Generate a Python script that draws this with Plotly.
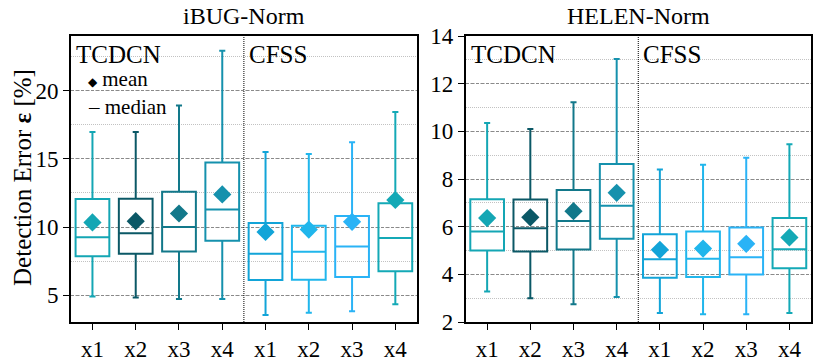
import plotly.graph_objects as go

# ---------------- data ----------------
cats = ["x1", "x2", "x3", "x4", "x1", "x2", "x3", "x4"]
groups = ["TCDCN", "CFSS"]
panel_titles = ["iBUG-Norm", "HELEN-Norm"]
colors = ["#14a6b4", "#0b5866", "#12788a", "#1591ad",
          "#12a4d8", "#20b6ec", "#2ab3f6", "#14a9b6"]

# iBUG-Norm
ibug_low = [4.90, 4.83, 4.73, 4.73, 3.55, 3.72, 3.82, 4.35]
ibug_q1 = [7.85, 8.04, 8.21, 8.99, 6.11, 6.13, 6.33, 6.76]
ibug_med = [9.25, 9.54, 10.00, 11.28, 8.04, 8.19, 8.57, 9.20]
ibug_q3 = [12.05, 12.08, 12.59, 14.73, 10.29, 10.10, 10.80, 11.74]
ibug_high = [16.96, 16.96, 18.90, 22.92, 15.49, 15.36, 16.21, 18.43]
ibug_mean = [10.34, 10.43, 10.99, 12.39, 9.64, 9.81, 10.38, 11.98]

# HELEN-Norm
helen_low = [3.28, 3.00, 2.75, 3.05, 2.38, 2.32, 2.32, 2.38]
helen_q1 = [5.00, 4.96, 5.04, 5.49, 3.86, 3.89, 3.99, 4.25]
helen_med = [5.80, 5.93, 6.24, 6.88, 4.63, 4.65, 4.72, 5.05]
helen_q3 = [7.15, 7.14, 7.54, 8.63, 5.68, 5.80, 5.96, 6.36]
helen_high = [10.35, 10.10, 11.22, 13.04, 8.40, 8.60, 8.89, 9.46]
helen_mean = [6.36, 6.39, 6.65, 7.42, 5.03, 5.08, 5.28, 5.55]

FONT = "'Liberation Serif', 'Times New Roman', Times, serif"
W, H = 813, 362

fig = go.Figure()

panels = [
    (ibug_low, ibug_q1, ibug_med, ibug_q3, ibug_high, ibug_mean, "x", "y"),
    (helen_low, helen_q1, helen_med, helen_q3, helen_high, helen_mean, "x2", "y2"),
]
positions = list(range(len(cats)))

for low, q1, med, q3, high, mean, xa, ya in panels:
    for i in positions:
        fig.add_trace(go.Box(
            x=[i], lowerfence=[low[i]], q1=[q1[i]], median=[med[i]],
            q3=[q3[i]], upperfence=[high[i]],
            width=0.78, whiskerwidth=0.18,
            line=dict(color=colors[i], width=2),
            fillcolor="rgba(255,255,255,0)",
            boxpoints=False, showlegend=False, hoverinfo="skip",
            xaxis=xa, yaxis=ya,
        ))
    fig.add_trace(go.Scatter(
        x=positions, y=mean, mode="markers",
        marker=dict(symbol="diamond", size=14, color=colors, line=dict(width=0)),
        showlegend=False, hoverinfo="skip", xaxis=xa, yaxis=ya,
    ))

common_x = dict(range=[-0.5, 7.5], tickvals=positions, ticktext=cats,
                ticks="outside", ticklen=6, tickcolor="black", showgrid=False,
                showline=True, mirror=True, linecolor="black", linewidth=1.5,
                zeroline=False, tickfont=dict(family=FONT, size=23, color="black"))
common_y = dict(ticks="outside", ticklen=6, tickcolor="black",
                showline=True, mirror=True, linecolor="black", linewidth=1.5,
                zeroline=False, showgrid=True, gridcolor="#8a8a8a", gridwidth=1,
                griddash="3px,2px",
                tickfont=dict(family=FONT, size=23, color="black"))

fig.update_layout(
    width=W, height=H,
    margin=dict(l=0, r=0, t=36, b=38),
    paper_bgcolor="white", plot_bgcolor="white",
    font=dict(family=FONT, color="black"),
    xaxis=dict(domain=[71 / W, 418 / W], anchor="y", **common_x),
    yaxis=dict(domain=[0, 1], anchor="x", range=[3.04, 24.0],
               tickvals=[5, 10, 15, 20],
               minor=dict(tick0=0, dtick=2.5, showgrid=True, gridcolor="#c2c2c2",
                          griddash="1px,1px", gridwidth=1),
               **common_y),
    xaxis2=dict(domain=[466.7 / W, 1.0], anchor="y2", **common_x),
    yaxis2=dict(domain=[0, 1], anchor="x2", range=[2, 14],
                tickvals=[2, 4, 6, 8, 10, 12, 14],
                minor=dict(tick0=0, dtick=1, showgrid=True, gridcolor="#c2c2c2",
                           griddash="1px,1px", gridwidth=1),
                **common_y),
)

# group dividers
for xr, yr in [("x", "y domain"), ("x2", "y2 domain")]:
    fig.add_shape(type="line", x0=3.5, x1=3.5, y0=0, y1=1, xref=xr, yref=yr,
                  line=dict(color="black", width=1, dash="1px,1px"))

ann = []
# panel titles
for t, xd in zip(panel_titles, ["x domain", "x2 domain"]):
    ann.append(dict(text=t, xref=xd, yref="paper", x=0.5, y=1.069,
                    xanchor="center", yanchor="middle", showarrow=False,
                    font=dict(family=FONT, size=24, color="black")))
# group labels
for xr in ["x", "x2"]:
    ann.append(dict(text=groups[0], xref=xr, yref="paper", x=-0.5, y=0.935,
                    xanchor="left", yanchor="middle", xshift=3, showarrow=False,
                    font=dict(family=FONT, size=25, color="black")))
    ann.append(dict(text=groups[1], xref=xr, yref="paper", x=3.5, y=0.935,
                    xanchor="left", yanchor="middle", xshift=3, showarrow=False,
                    font=dict(family=FONT, size=25, color="black")))
# mini legend
ann.append(dict(text="<span style='font-size:12px'>◆</span> mean", xref="paper",
                yref="paper", x=86 / W,
                y=(324 - 79) / 288, xanchor="left", yanchor="middle",
                showarrow=False, font=dict(family=FONT, size=21, color="black")))
ann.append(dict(text="– median", xref="paper", yref="paper", x=86 / W,
                y=(324 - 107) / 288, xanchor="left", yanchor="middle",
                showarrow=False, font=dict(family=FONT, size=21, color="black")))
# y-axis title
ann.append(dict(text="Detection Error <b>ε</b> [%]", xref="paper", yref="paper",
                x=22 / W, y=(324 - 178) / 288, textangle=-90,
                xanchor="center", yanchor="middle", showarrow=False,
                font=dict(family=FONT, size=25, color="black")))
fig.update_layout(annotations=ann)

fig.write_html("out.html")
